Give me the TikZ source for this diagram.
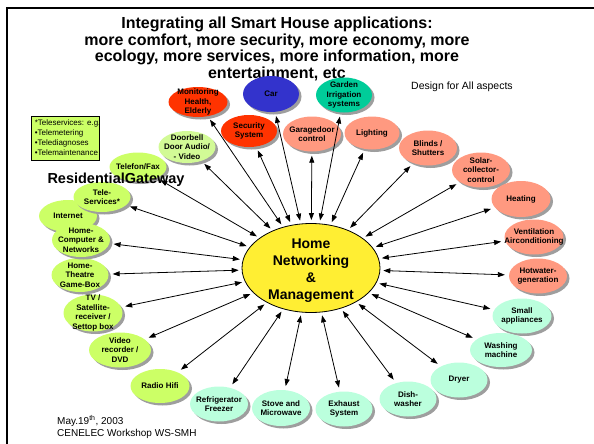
\documentclass[tikz,border=0pt]{standalone}
\usepackage{fontspec}
\setmainfont{Liberation Sans}
\usetikzlibrary{shapes.geometric,shadows,arrows.meta}
\definecolor{alarmred}{RGB}{255,51,0}
\definecolor{carblue}{RGB}{51,51,204}
\definecolor{gardengreen}{RGB}{0,204,153}
\definecolor{salmonpink}{RGB}{255,153,128}
\definecolor{mintgreen}{RGB}{187,255,221}
\definecolor{limegreen}{RGB}{204,255,102}
\definecolor{palelime}{RGB}{210,250,150}
\definecolor{hubyellow}{RGB}{255,238,51}
\tikzset{
    app-bubble/.style = {ellipse, inner sep=0pt, minimum width=58pt, minimum height=35pt,
        drop shadow={shadow xshift=2.5pt, shadow yshift=-2.5pt, fill=black!38, opacity=1}},
    bubble-text/.style = {align=center, inner sep=0pt, font=\bfseries\fontsize{8}{9.5}\selectfont},
    hub-bubble/.style = {ellipse, draw=black, fill=hubyellow, line width=0.8pt, inner sep=0pt,
        minimum width=138pt, minimum height=89pt},
    hub-text/.style = {align=center, inner sep=0pt, font=\bfseries\fontsize{14}{17}\selectfont},
    title-text/.style = {align=center, inner sep=0pt, font=\bfseries\fontsize{16}{16.7}\selectfont},
    plain-text/.style = {align=left, inner sep=0pt, font=\fontsize{10}{11.5}\selectfont},
    link/.style = {>={Triangle[length=7pt,width=5pt]}, <->, line width=0.8pt, shorten <=3pt, shorten >=4pt},
}
\newcommand{\appbubble}[4]{% name, position, options, text
  \node[app-bubble, #3] (#1) at (#2) {};
  \node[bubble-text] (#1-text) at (#1) {#4};
}

\begin{document}
\begin{tikzpicture}[x=1pt,y=-1pt]
\useasboundingbox (0,0) rectangle (594,444);
\draw[line width=1.6pt] (594,8) -- (7,8) -- (7,444);

% heading and side notes
\node[title-text] (title) at (277,49) {Integrating all Smart House applications:\\
    more comfort, more security, more economy, more\\
    ecology, more services, more information, more\\
    entertainment, etc};
\node[plain-text, anchor=west, font=\fontsize{10.5}{12}\selectfont] (design) at (411,87) {Design for All aspects};
\node[draw=black, fill=limegreen, line width=0.8pt, minimum width=68pt, minimum height=44pt] (telebox) at (65,138) {};
\node[align=left, inner sep=0pt, anchor=west, font=\fontsize{8}{10}\selectfont] (telebox-text) at ([xshift=4pt]telebox.west)
    {*Teleservices: e.g.\\•Telemetering\\•Telediagnoses\\•Telemaintenance};

% applications round the hub
\appbubble{monitoring}{198,102}{fill=alarmred, minimum width=59pt, minimum height=30pt}{Monitoring\\Health,\\Elderly}
\appbubble{car}{271,94}{fill=carblue, minimum width=56pt, minimum height=36pt}{Car}
\appbubble{garden}{344,95}{fill=gardengreen, minimum width=56pt, minimum height=35pt}{Garden\\Irrigation\\systems}
\appbubble{security}{249,131}{fill=alarmred, minimum width=56pt, minimum height=32pt}{Security\\System}
\appbubble{garagedoor}{312,134}{fill=salmonpink}{Garagedoor\\control}
\appbubble{lighting}{372,133}{fill=salmonpink, minimum width=55pt, minimum height=33pt}{Lighting}
\appbubble{doorbell}{187,147}{fill=palelime, minimum width=57pt, minimum height=32pt}{Doorbell\\Door Audio/\\- Video}
\appbubble{blinds}{428,148}{fill=salmonpink}{Blinds /\\Shutters}
\appbubble{solar}{481,170}{fill=salmonpink}{Solar-\\collector-\\control}
\appbubble{heating}{521,199}{fill=salmonpink, minimum width=59pt, minimum height=36pt}{Heating}
\appbubble{ventilation}{534,237}{fill=salmonpink, minimum width=59pt}{Ventilation\\Airconditioning}
\appbubble{hotwater}{538,276}{fill=salmonpink}{Hotwater-\\generation}
\appbubble{small}{522,316}{fill=mintgreen, minimum width=59pt}{Small\\appliances}
\appbubble{washing}{501,350}{fill=mintgreen, minimum width=62pt, minimum height=34pt}{Washing\\machine}
\appbubble{dryer}{459,380}{fill=mintgreen, minimum width=57pt}{Dryer}
\appbubble{dishwasher}{408,399}{fill=mintgreen, minimum width=57pt}{Dish-\\washer}
\appbubble{exhaust}{344,409}{fill=mintgreen, minimum width=57pt}{Exhaust\\System}
\appbubble{stove}{281,408}{fill=mintgreen, minimum height=36pt}{Stove and\\Microwave}
\appbubble{fridge}{219,404}{fill=mintgreen}{Refrigerator\\Freezer}
\appbubble{radio}{160,386}{fill=limegreen, minimum width=59pt, minimum height=34pt}{Radio Hifi}
\appbubble{video}{120,350}{fill=limegreen, minimum width=62pt}{Video\\recorder /\\DVD}
\appbubble{tv}{93,313}{fill=limegreen, minimum width=59pt, minimum height=37pt}{TV /\\Satellite-\\receiver /\\Settop box}
\appbubble{theatre}{80,275}{fill=limegreen, minimum width=57pt, minimum height=34pt}{Home-\\Theatre\\Game-Box}
\appbubble{internet}{68,216}{fill=limegreen, minimum height=32pt}{Internet}
\appbubble{computer}{81,240}{fill=limegreen, minimum height=34pt}{Home-\\Computer \&\\Networks}
\appbubble{telefon}{138,167}{fill=limegreen, minimum width=57pt, minimum height=29pt}{Telefon/Fax}
\appbubble{teleservices}{102,197}{fill=limegreen, minimum width=57pt, minimum height=30pt}{Tele-\\Services*}

% the hub
\node[hub-bubble] (hub) at (311,268) {};
\node[hub-text] (hub-text) at ([yshift=-3pt]hub.center) {Home\\Networking\\\&\\Management};

\foreach \app in {monitoring, car, garden, security, garagedoor, lighting, doorbell, blinds,
    solar, heating, ventilation, hotwater, small, washing, dryer, dishwasher, exhaust, stove,
    fridge, radio, video, tv, theatre, computer, telefon, teleservices}
  \draw[link] (hub) -- (\app);

\node[title-text, font=\bfseries\fontsize{14.5}{16}\selectfont] (gateway) at (116,180) {ResidentialGateway};
\node[plain-text, anchor=west] (footer) at (57,427) {May.19\textsuperscript{th}, 2003\\CENELEC Workshop WS-SMH};
\end{tikzpicture}
\end{document}
